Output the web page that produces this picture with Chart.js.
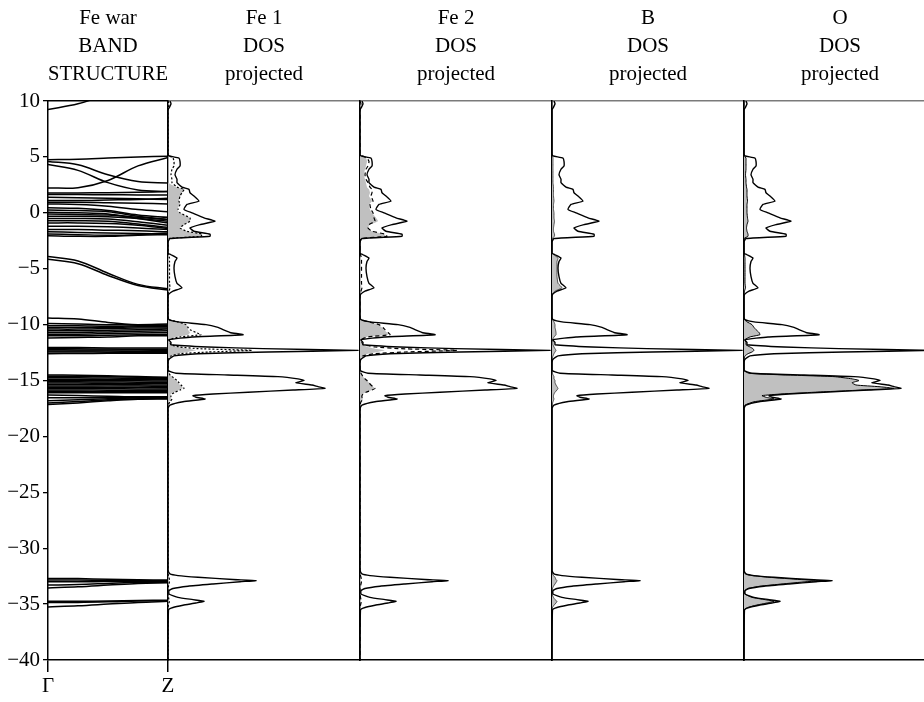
<!DOCTYPE html>
<html>
<head>
<meta charset="utf-8">
<script src="https://cdn.jsdelivr.net/npm/chart.js@4.4.1/dist/chart.umd.min.js"></script>
<style>
  html, body { margin: 0; padding: 0; background: #fff; overflow: hidden; }
  #wrap { position: relative; width: 924px; height: 702px; overflow: hidden; }
  #wrap canvas { position: absolute; left: 0; top: 0; }
</style>
</head>
<body>
<div id="wrap">
  <canvas id="band" width="940" height="702"></canvas>
  <canvas id="fe1" width="940" height="702"></canvas>
  <canvas id="fe2" width="940" height="702"></canvas>
  <canvas id="boron" width="940" height="702"></canvas>
  <canvas id="oxygen" width="940" height="702"></canvas>
</div>
<script>
// ---- band structure (energies in eV along Gamma -> Z) ----
const kTicks = [0, 1];
const kLabels = ["\u0393", "Z"];
const kPoints = [0, 0.25, 0.5, 0.75, 1];

const bandsConduction = [
  [9.25, 9.75, 10.6, 11.2, 11.5],
  [4.76, 4.8, 4.9, 5.0, 5.06],
  [4.6, 4.3, 3.4, 2.8, 2.68],
  [4.32, 3.8, 2.7, 2.05, 1.9],
  [2.23, 2.25, 2.9, 4.2, 4.95]
];
const bandsValence = [
  [1.78, 1.78, 1.8, 1.85, 1.9],
  [1.63, 1.63, 1.62, 1.6, 1.6],
  [1.4, 1.35, 1.3, 1.25, 1.2],
  [1.1, 1.1, 1.15, 1.2, 1.3],
  [0.95, 0.95, 0.9, 0.85, 0.8],
  [0.8, 0.75, 0.6, 0.3, 0.1],
  [0.45, 0.4, 0.2, -0.2, -0.4],
  [0.25, 0.2, 0.1, -0.3, -0.6],
  [0.05, 0.0, -0.1, -0.5, -0.9],
  [-0.1, -0.15, -0.2, -0.4, -0.6],
  [-0.3, -0.3, -0.35, -0.5, -0.75],
  [-0.5, -0.5, -0.55, -0.8, -1.1],
  [-0.7, -0.7, -0.75, -1.0, -1.3],
  [-0.9, -0.9, -0.95, -1.1, -1.4],
  [-1.2, -1.2, -1.25, -1.35, -1.5],
  [-1.5, -1.5, -1.55, -1.6, -1.7],
  [-1.7, -1.75, -1.8, -1.85, -1.9],
  [-1.9, -1.95, -2.0, -1.95, -1.8],
  [-2.05, -2.1, -2.1, -2.0, -1.95]
];
const bandsMid = [
  [-3.9, -4.3, -5.4, -6.4, -6.8],
  [-4.15, -4.55, -5.6, -6.5, -6.9]
];
const bandsDeep = [
  [-9.4, -9.5, -9.8, -10.0, -10.05],
  [-9.9, -9.95, -10.0, -10.0, -9.95],
  [-10.1, -10.1, -10.15, -10.1, -10.05],
  [-10.25, -10.25, -10.25, -10.2, -10.2],
  [-10.4, -10.4, -10.35, -10.3, -10.3],
  [-10.55, -10.55, -10.5, -10.45, -10.4],
  [-10.7, -10.7, -10.65, -10.6, -10.55],
  [-10.85, -10.85, -10.8, -10.75, -10.7],
  [-11.0, -11.0, -10.95, -10.9, -10.85],
  [-11.2, -11.15, -11.1, -11.0, -11.0],
  [-12.05, -12.05, -12.08, -12.1, -12.1],
  [-12.15, -12.16, -12.18, -12.2, -12.2],
  [-12.25, -12.26, -12.27, -12.28, -12.3],
  [-12.35, -12.36, -12.37, -12.38, -12.38],
  [-12.45, -12.45, -12.46, -12.46, -12.47],
  [-12.6, -12.58, -12.57, -12.56, -12.55],
  [-14.5, -14.52, -14.58, -14.65, -14.7],
  [-14.62, -14.63, -14.66, -14.7, -14.75],
  [-14.75, -14.75, -14.78, -14.8, -14.82],
  [-14.88, -14.88, -14.9, -14.92, -14.93],
  [-15.0, -15.0, -15.02, -15.03, -15.05],
  [-15.1, -15.12, -15.13, -15.15, -15.15],
  [-15.22, -15.23, -15.25, -15.26, -15.27],
  [-15.35, -15.35, -15.36, -15.38, -15.4],
  [-15.48, -15.48, -15.5, -15.5, -15.52],
  [-15.6, -15.6, -15.62, -15.63, -15.64],
  [-15.72, -15.72, -15.73, -15.75, -15.76],
  [-15.85, -15.85, -15.86, -15.87, -15.88],
  [-15.97, -15.97, -15.98, -15.98, -16.0],
  [-16.1, -16.1, -16.1, -16.1, -16.1],
  [-16.3, -16.35, -16.4, -16.45, -16.45],
  [-16.55, -16.55, -16.52, -16.5, -16.5],
  [-16.8, -16.72, -16.62, -16.56, -16.55],
  [-17.0, -16.88, -16.72, -16.62, -16.6],
  [-17.15, -17.0, -16.82, -16.68, -16.65]
];
const bandsCore = [
  [-32.7, -32.72, -32.78, -32.82, -32.85],
  [-32.85, -32.85, -32.88, -32.9, -32.9],
  [-33.0, -33.0, -32.98, -32.97, -32.95],
  [-33.3, -33.25, -33.15, -33.05, -33.05],
  [-33.55, -33.45, -33.3, -33.15, -33.1],
  [-34.75, -34.75, -34.72, -34.68, -34.65],
  [-34.85, -34.85, -34.8, -34.72, -34.7],
  [-35.25, -35.15, -35.0, -34.85, -34.75]
];

// ---- densities of states (arbitrary units) on a shared energy grid ----
const dosEnergy = [
  10, 9.75, 9.45, 9.2,
  5.3, 5.1, 4.9, 4.6, 4.2, 3.9, 3.4, 3.0, 2.7,
  2.3, 2.1, 1.8, 1.5, 1.05, 0.75, 0.3, 0,
  -0.45, -0.75, -1.05, -1.35, -1.65, -1.9, -2.1, -2.3, -2.6,
  -3.6, -3.75, -4.05, -4.35, -4.95, -5.7, -6.3, -6.7, -7.0, -7.25, -7.5,
  -9.3, -9.55, -9.75, -10.0, -10.25, -10.45, -10.7, -10.9, -11.1, -11.35,
  -11.6, -11.8, -12.0, -12.15, -12.3, -12.45, -12.6, -12.8, -13.1, -13.4,
  -14.1, -14.35, -14.5, -14.65, -14.85, -15.0, -15.2, -15.4, -15.55, -15.7,
  -15.85, -16.05, -16.2, -16.35, -16.5, -16.65, -16.9, -17.2, -17.5,
  -32.0, -32.3, -32.45, -32.6, -32.8, -32.9, -33.0, -33.2, -33.4, -33.6,
  -33.8, -34.1, -34.4, -34.6, -34.75, -34.9, -35.1, -35.3, -35.5, -40
];
const dosTotal = [
  0.2, 0.3, 0.15, 0,
  0, 0.1, 1.1, 1.2, 1.2, 0.9, 0.7, 0.9, 0.9,
  1.4, 2.1, 2.2, 2.6, 3.1, 1.9, 1.6, 2.4,
  3.6, 4.7, 3.2, 2.2, 2.6, 4.2, 4.2, 0.2, 0,
  0, 0.3, 0.9, 0.7, 0.6, 0.7, 0.9, 1.4, 0.5, 0.1, 0,
  0, 0.1, 1.0, 3.8, 5.0, 5.5, 6.2, 7.5, 2.4, 0.1,
  0.3, 0.3, 4.0, 9.5, 19.0, 10.0, 3.0, 0.6, 0.1, 0,
  0, 0.8, 6.0, 11.0, 13.0, 13.6, 12.8, 14.4, 15.0, 15.7,
  12.5, 8.0, 4.5, 2.5, 2.8, 3.7, 1.5, 0.2, 0,
  0, 0.2, 1.0, 3.0, 6.5, 8.8, 7.2, 4.5, 2.0, 0.5,
  0.1, 0.1, 1.0, 2.5, 3.6, 2.8, 1.5, 0.5, 0.05, 0
];
const fe1Shaded = [
  0, 0.05, 0, 0,
  0, 0, 0.05, 0.05, 0.05, 0.05, 0.05, 0.05, 0.05,
  0.8, 1.6, 1.4, 1.2, 1.1, 1.2, 0.9, 1.2,
  2.2, 2.2, 1.6, 1.2, 1.9, 3.4, 3.3, 0.1, 0,
  0, 0.05, 0.1, 0.1, 0.1, 0.1, 0.1, 0.15, 0.05, 0, 0,
  0, 0.05, 1.0, 1.8, 2.0, 2.0, 2.2, 2.0, 0.8, 0.1,
  0.2, 0.2, 1.0, 2.0, 2.8, 2.0, 1.0, 0.3, 0, 0,
  0, 0.1, 0.2, 0.4, 0.6, 0.8, 1.0, 1.2, 1.4, 1.5,
  1.1, 0.6, 0.3, 0.2, 0.2, 0.3, 0.1, 0, 0,
  0, 0, 0, 0.05, 0.1, 0.1, 0.1, 0.05, 0, 0,
  0, 0, 0, 0.05, 0.1, 0.05, 0, 0, 0, 0
];
const fe1Dotted = [
  0, 0.1, 0.05, 0,
  0, 0.1, 0.5, 0.6, 0.6, 0.4, 0.3, 0.4, 0.4,
  0.9, 1.6, 1.4, 1.2, 1.1, 1.2, 1.0, 1.2,
  2.2, 2.2, 1.6, 1.2, 1.9, 3.4, 3.3, 0.1, 0,
  0, 0.05, 0.15, 0.15, 0.15, 0.15, 0.15, 0.2, 0.1, 0, 0,
  0, 0.05, 1.0, 1.8, 2.0, 2.2, 2.8, 3.3, 1.2, 0.1,
  0.2, 0.3, 1.2, 3.0, 8.4, 4.0, 1.2, 0.3, 0, 0,
  0, 0.1, 0.2, 0.4, 0.7, 0.9, 1.1, 1.3, 1.5, 1.6,
  1.2, 0.7, 0.4, 0.3, 0.3, 0.4, 0.2, 0, 0,
  0, 0, 0.05, 0.1, 0.15, 0.2, 0.15, 0.1, 0.05, 0,
  0, 0, 0.05, 0.1, 0.15, 0.1, 0.05, 0, 0, 0
];
const fe2Shaded = [
  0, 0.05, 0, 0,
  0, 0.2, 0.6, 0.7, 0.6, 0.5, 0.4, 0.5, 0.6,
  0.7, 0.9, 1.0, 0.9, 1.2, 0.9, 1.0, 1.2,
  1.6, 1.8, 1.0, 0.8, 1.2, 2.4, 2.6, 0.1, 0,
  0, 0.05, 0.1, 0.1, 0.1, 0.1, 0.1, 0.15, 0.05, 0, 0,
  0, 0.05, 0.8, 1.8, 2.2, 2.4, 2.7, 2.8, 0.6, 0.1,
  0.2, 0.2, 0.8, 1.5, 2.5, 1.8, 0.8, 0.3, 0, 0,
  0, 0.1, 0.2, 0.3, 0.5, 0.7, 0.9, 1.1, 1.3, 1.5,
  1.2, 0.6, 0.3, 0.2, 0.2, 0.3, 0.1, 0, 0,
  0, 0, 0, 0.05, 0.1, 0.1, 0.1, 0.05, 0, 0,
  0, 0, 0, 0.05, 0.1, 0.05, 0, 0, 0, 0
];
const fe2Dashed = [
  0, 0.1, 0.05, 0,
  0, 0.2, 0.7, 0.9, 0.8, 0.6, 0.5, 0.6, 0.8,
  1.0, 1.2, 1.2, 1.1, 1.3, 1.0, 1.1, 1.3,
  1.4, 1.5, 0.9, 0.8, 1.2, 2.5, 2.7, 0.1, 0,
  0, 0.05, 0.15, 0.15, 0.15, 0.15, 0.15, 0.2, 0.1, 0, 0,
  0, 0.05, 0.9, 1.9, 2.3, 2.5, 2.8, 3.0, 0.8, 0.1,
  0.2, 0.3, 1.5, 4.0, 9.7, 4.5, 1.4, 0.3, 0, 0,
  0, 0.1, 0.2, 0.3, 0.5, 0.7, 0.9, 1.1, 1.3, 1.5,
  1.2, 0.6, 0.3, 0.2, 0.2, 0.3, 0.1, 0, 0,
  0, 0, 0.05, 0.1, 0.15, 0.2, 0.15, 0.1, 0.05, 0,
  0, 0, 0.05, 0.1, 0.15, 0.1, 0.05, 0, 0, 0
];
const boronShaded = [
  0, 0.05, 0, 0,
  0, 0.05, 0.1, 0.1, 0.1, 0.1, 0.1, 0.1, 0.1,
  0.15, 0.15, 0.15, 0.15, 0.2, 0.15, 0.15, 0.2,
  0.2, 0.25, 0.2, 0.15, 0.15, 0.25, 0.25, 0, 0,
  0, 0.2, 0.6, 0.5, 0.5, 0.5, 0.6, 1.0, 0.3, 0.05, 0,
  0, 0.05, 0.2, 0.3, 0.3, 0.35, 0.4, 0.4, 0.2, 0.05,
  0.1, 0.1, 0.2, 0.3, 0.4, 0.3, 0.2, 0.1, 0, 0,
  0, 0.05, 0.1, 0.2, 0.2, 0.3, 0.3, 0.4, 0.5, 0.6,
  0.5, 0.3, 0.2, 0.15, 0.15, 0.2, 0.1, 0, 0,
  0, 0.05, 0.15, 0.3, 0.4, 0.5, 0.45, 0.3, 0.15, 0.05,
  0, 0, 0.15, 0.3, 0.5, 0.4, 0.2, 0.05, 0, 0
];
const oxygenShaded = [
  0, 0.05, 0, 0,
  0, 0.05, 0.2, 0.2, 0.2, 0.2, 0.15, 0.2, 0.2,
  0.25, 0.3, 0.3, 0.3, 0.35, 0.3, 0.3, 0.3,
  0.35, 0.4, 0.3, 0.25, 0.3, 0.4, 0.4, 0, 0,
  0, 0.05, 0.1, 0.1, 0.1, 0.1, 0.1, 0.15, 0.05, 0, 0,
  0, 0.05, 0.3, 0.8, 1.0, 1.2, 1.5, 1.6, 0.6, 0.1,
  0.2, 0.2, 0.6, 0.9, 1.0, 0.8, 0.4, 0.1, 0, 0,
  0, 0.5, 4.0, 9.0, 10.8, 11.5, 10.8, 11.2, 13.5, 15.0,
  11.8, 7.0, 3.8, 1.8, 2.2, 3.0, 1.0, 0.1, 0,
  0, 0.15, 0.8, 2.5, 5.6, 7.8, 6.2, 3.8, 1.6, 0.4,
  0.1, 0.1, 0.8, 2.1, 3.0, 2.3, 1.2, 0.4, 0.05, 0
];

const titles = {
  band: ["Fe war", "BAND", "STRUCTURE"],
  fe1: ["Fe 1", "DOS", "projected"],
  fe2: ["Fe 2", "DOS", "projected"],
  boron: ["B", "DOS", "projected"],
  oxygen: ["O", "DOS", "projected"]
};
const energyTicks = { min: -40, max: 10, step: 5 };

// ---- drawing ----
const serif = "'Liberation Serif', 'Times New Roman', serif";
const CANVAS_W = 940;
const PLOT_BOTTOM = 42;
Chart.defaults.font.family = serif;
Chart.defaults.color = "#000";

const minus = v => (v < 0 ? "\u2212" + Math.abs(v) : String(v));

function titleOf(lines) {
  return {
    display: true, text: lines, fullSize: false, color: "#000",
    font: { family: serif, size: 21, weight: "normal", lineHeight: 1.35 },
    padding: { top: 4, bottom: 12 }
  };
}

function edgeAxis(axis, position, color) {
  return {
    axis, position, display: true, min: 0, max: 1,
    ticks: { display: false }, grid: { display: false },
    border: { display: true, color, width: 1.5 },
    afterFit: s => { if (axis === "x") s.height = 0; else s.width = 0; }
  };
}

const bandSets = [bandsConduction, bandsValence, bandsMid, bandsDeep, bandsCore].flat().map(b => ({
  data: b.map((e, i) => ({ x: kPoints[i], y: e })),
  borderColor: "#000", borderWidth: 1.5, pointRadius: 0, tension: 0.35, fill: false
}));

new Chart(document.getElementById("band"), {
  type: "line",
  data: { datasets: bandSets },
  options: {
    responsive: false, animation: false, events: [],
    layout: { padding: { left: 0, right: CANVAS_W - 168, top: 0, bottom: 0 } },
    plugins: { legend: { display: false }, tooltip: { enabled: false }, title: titleOf(titles.band) },
    scales: {
      x: {
        type: "linear", position: "bottom", min: 0, max: 1,
        afterFit: s => { s.height = PLOT_BOTTOM; },
        afterBuildTicks: s => { s.ticks = kTicks.map(v => ({ value: v })); },
        ticks: { callback: v => kLabels[kTicks.indexOf(v)], font: { size: 21 }, color: "#000", padding: 2, maxRotation: 0, autoSkip: false },
        grid: { drawOnChartArea: false, drawTicks: true, tickLength: 12, color: "#000", lineWidth: 1.5 },
        border: { display: true, color: "#000", width: 1.5 }
      },
      xTop: edgeAxis("x", "top", "#000"),
      y: {
        type: "linear", position: "left", min: energyTicks.min, max: energyTicks.max,
        afterFit: s => { s.width = 48; },
        ticks: { stepSize: energyTicks.step, callback: minus, font: { size: 21 }, color: "#000", padding: 3 },
        grid: { drawOnChartArea: false, drawTicks: true, tickLength: 5, color: "#000", lineWidth: 1.3 },
        border: { display: true, color: "#000", width: 1.5 }
      }
    }
  }
});

const pts = vals => vals.map((v, i) => ({ x: v, y: dosEnergy[i] }));
const totalLine = () => ({ data: pts(dosTotal), borderColor: "#000", borderWidth: 1.4, pointRadius: 0, tension: 0.15, fill: false });
const shaded = (vals, border, width, dash) => ({
  data: pts(vals), borderColor: border, borderWidth: width, borderDash: dash || [],
  backgroundColor: "#c0c0c0", pointRadius: 0, tension: 0.15, fill: "origin"
});
const outline = (vals, dash) => ({ data: pts(vals), borderColor: "#000", borderWidth: 1.2, borderDash: dash, pointRadius: 0, tension: 0.15, fill: false });

function dosChart(id, left, right, sets) {
  new Chart(document.getElementById(id), {
    type: "line",
    data: { datasets: sets },
    options: {
      indexAxis: "y", responsive: false, animation: false, events: [],
      layout: { padding: { left, right: CANVAS_W - right, top: 0, bottom: PLOT_BOTTOM } },
      plugins: { legend: { display: false }, tooltip: { enabled: false }, title: titleOf(titles[id]) },
      scales: {
        x: {
          type: "linear", position: "bottom", min: 0, max: 19.2,
          ticks: { display: false }, grid: { display: false },
          border: { display: true, color: "#000", width: 1.5 },
          afterFit: s => { s.height = 0; }
        },
        xTop: edgeAxis("x", "top", "#7a7a7a"),
        y: {
          type: "linear", position: "left", min: energyTicks.min, max: energyTicks.max,
          ticks: { display: false }, grid: { display: false },
          border: { display: true, color: "#000", width: 1.5 },
          afterFit: s => { s.width = 0; }
        }
      }
    }
  });
}

dosChart("fe1", 168, 360, [totalLine(), outline(fe1Dotted, [2, 2]), shaded(fe1Shaded, "rgba(0,0,0,0)", 0)]);
dosChart("fe2", 360, 552, [totalLine(), outline(fe2Dashed, [4, 3]), shaded(fe2Shaded, "rgba(0,0,0,0)", 0)]);
dosChart("boron", 552, 744, [totalLine(), shaded(boronShaded, "#333", 0.8)]);
dosChart("oxygen", 744, 936, [totalLine(), shaded(oxygenShaded, "#000", 1)]);
</script>
</body>
</html>
